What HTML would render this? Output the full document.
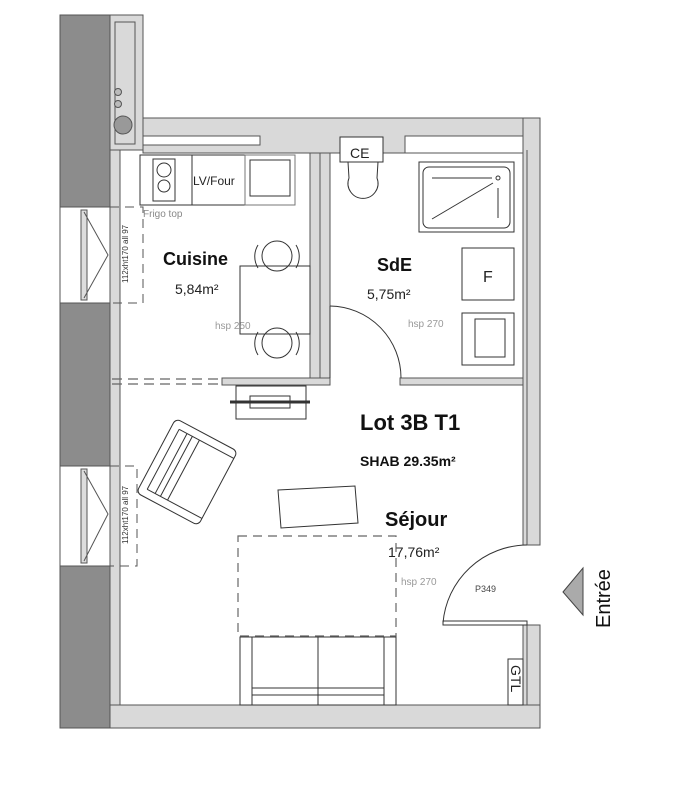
<!DOCTYPE html>
<html><head><meta charset="utf-8"><style>
html,body{margin:0;padding:0;background:#fff;}
svg{display:block;}
text{font-family:"Liberation Sans",sans-serif;}
</style></head><body>
<svg width="680" height="800" viewBox="0 0 680 800" xmlns="http://www.w3.org/2000/svg">
<g stroke="#555" stroke-width="1">
<rect x="60" y="15" width="50" height="192" fill="#8c8c8c"/>
<rect x="60" y="303" width="50" height="163" fill="#8c8c8c"/>
<rect x="60" y="566" width="50" height="162" fill="#8c8c8c"/>
<rect x="110" y="15" width="33" height="135" fill="#d9d9d9"/>
<rect x="115" y="22" width="20" height="122" fill="#d9d9d9"/>
<circle cx="118" cy="92" r="3.5" fill="#bbb"/>
<circle cx="118" cy="104" r="3.5" fill="#bbb"/>
<circle cx="123" cy="125" r="9" fill="#999"/>
<rect x="143" y="118" width="397" height="35" fill="#d9d9d9"/>
<rect x="143" y="136" width="117" height="9" fill="#fff"/>
<rect x="405" y="136" width="118" height="17" fill="#fff"/>
<rect x="110" y="150" width="10" height="578" fill="#d9d9d9"/>
<rect x="523" y="118" width="17" height="427" fill="#d9d9d9"/>
<rect x="523" y="625" width="17" height="103" fill="#d9d9d9"/>
<line x1="527" y1="150" x2="527" y2="545"/>
<line x1="527" y1="625" x2="527" y2="728"/>
<rect x="110" y="705" width="430" height="23" fill="#d9d9d9"/>
<rect x="310" y="153" width="10" height="228" fill="#d9d9d9"/>
<rect x="320" y="153" width="10" height="228" fill="#d9d9d9"/>
<rect x="222" y="378" width="108" height="7" fill="#d9d9d9"/>
<rect x="400" y="378" width="123" height="7" fill="#d9d9d9"/>
</g>
<g fill="none" stroke="#666" stroke-width="1.3" stroke-dasharray="10,6">
<line x1="112" y1="379" x2="222" y2="379"/>
<line x1="112" y1="384" x2="222" y2="384"/>
</g>
<g stroke="#555" fill="#fff" stroke-width="1">
<rect x="60" y="207" width="50" height="96"/>
<rect x="60" y="466" width="50" height="100"/>
<rect x="81" y="210" width="6" height="90" fill="#ddd"/>
<rect x="81" y="469" width="6" height="94" fill="#ddd"/>
<polyline points="84,212 108,255 84,298" fill="none"/>
<polyline points="84,471 108,514 84,561" fill="none"/>
</g>
<g fill="none" stroke="#555" stroke-dasharray="9,6">
<polyline points="110,207 143,207 143,303 110,303"/>
<polyline points="110,466 137,466 137,566 110,566"/>
</g>
<text transform="translate(128,283) rotate(-90)" font-size="8" fill="#333">112xht170 all 97</text>
<text transform="translate(128,544) rotate(-90)" font-size="8" fill="#333">112xht170 all 97</text>
<g fill="none" stroke="#333" stroke-width="1">
<rect x="140" y="155" width="105" height="50"/>
<rect x="153" y="159" width="22" height="42"/>
<circle cx="164" cy="170" r="7"/>
<circle cx="164" cy="186" r="6"/>
<line x1="192" y1="155" x2="192" y2="205"/>
<rect x="245" y="155" width="50" height="50" stroke="#777"/>
<rect x="250" y="160" width="40" height="36"/>
<rect x="240" y="266" width="70" height="68"/>
<circle cx="277" cy="256" r="15"/>
<path d="M258,245 A22,22 0 0 0 258,268" />
<path d="M296,245 A22,22 0 0 1 296,268" />
<circle cx="277" cy="343" r="15"/>
<path d="M258,332 A22,22 0 0 0 258,355" />
<path d="M296,332 A22,22 0 0 1 296,355" />
</g>
<text x="193" y="185" font-size="12" fill="#222">LV/Four</text>
<text x="143" y="217" font-size="10" fill="#888">Frigo top</text>
<text x="163" y="265" font-size="18" font-weight="bold" fill="#111">Cuisine</text>
<text x="175" y="294" font-size="14" fill="#222">5,84m²</text>
<text x="215" y="329" font-size="10" fill="#999">hsp 250</text>
<g fill="none" stroke="#333" stroke-width="1">
<rect x="340" y="137" width="43" height="25" fill="#fff"/>
<path d="M348,162 L349,178 A15,15 0 1 0 377,178 L378,162"/>
<rect x="419" y="162" width="95" height="70"/>
<rect x="423" y="167" width="87" height="61" rx="6"/>
<line x1="432" y1="178" x2="492" y2="178"/>
<line x1="432" y1="219" x2="493" y2="183"/>
<circle cx="498" cy="178" r="2"/>
<line x1="498" y1="188" x2="498" y2="218"/>
<rect x="462" y="248" width="52" height="52"/>
<rect x="462" y="313" width="52" height="52"/>
<rect x="475" y="319" width="30" height="38"/>
<line x1="330" y1="306" x2="330" y2="378"/>
<path d="M330,306 A72,72 0 0 1 401,378"/>
</g>
<text x="350" y="158" font-size="14" fill="#222">CE</text>
<text x="483" y="282" font-size="16" fill="#222">F</text>
<text x="377" y="271" font-size="18" font-weight="bold" fill="#111">SdE</text>
<text x="367" y="299" font-size="14" fill="#222">5,75m²</text>
<text x="408" y="327" font-size="10" fill="#999">hsp 270</text>
<g fill="none" stroke="#333" stroke-width="1">
<rect x="236" y="386" width="70" height="33"/>
<rect x="250" y="396" width="40" height="12"/>
<line x1="230" y1="402" x2="310" y2="402" stroke-width="3"/>
<g transform="translate(187,472) rotate(28)">
<rect x="-35" y="-42" width="70" height="84" rx="5"/>
<line x1="-27" y1="-34" x2="-27" y2="34"/>
<line x1="-27" y1="-34" x2="35" y2="-34"/>
<line x1="-27" y1="34" x2="35" y2="34"/>
<line x1="-18" y1="-34" x2="-18" y2="34"/>
<line x1="-12" y1="-34" x2="-12" y2="34"/>
<line x1="-4" y1="-34" x2="-4" y2="34"/>
</g>
<polygon points="278,490 355,486 358,523 281,528"/>
<rect x="240" y="637" width="156" height="68"/>
<line x1="252" y1="637" x2="252" y2="705"/>
<line x1="384" y1="637" x2="384" y2="705"/>
<line x1="318" y1="637" x2="318" y2="705"/>
<line x1="252" y1="688" x2="384" y2="688"/>
<line x1="252" y1="695" x2="384" y2="695"/>
<path d="M527,545 A85,85 0 0 0 443,623"/>
<rect x="443" y="621" width="84" height="4"/>
<rect x="508" y="659" width="15" height="46"/>
</g>
<rect x="238" y="536" width="158" height="100" fill="none" stroke="#666" stroke-dasharray="9,6" stroke-width="1.2"/>
<text x="360" y="430" font-size="22" font-weight="bold" fill="#111">Lot 3B T1</text>
<text x="360" y="466" font-size="14" font-weight="bold" fill="#111">SHAB 29.35m²</text>
<text x="385" y="526" font-size="20" font-weight="bold" fill="#111">Séjour</text>
<text x="388" y="557" font-size="14" fill="#222">17,76m²</text>
<text x="401" y="585" font-size="10" fill="#999">hsp 270</text>
<text x="475" y="592" font-size="9" fill="#444">P349</text>
<text transform="translate(511,665) rotate(90)" font-size="14" fill="#222">GTL</text>
<polygon points="563,592 583,568 583,615" fill="#aaa" stroke="#444"/>
<text transform="translate(610,628) rotate(-90)" font-size="20" fill="#111">Entrée</text>
</svg>
</body></html>
